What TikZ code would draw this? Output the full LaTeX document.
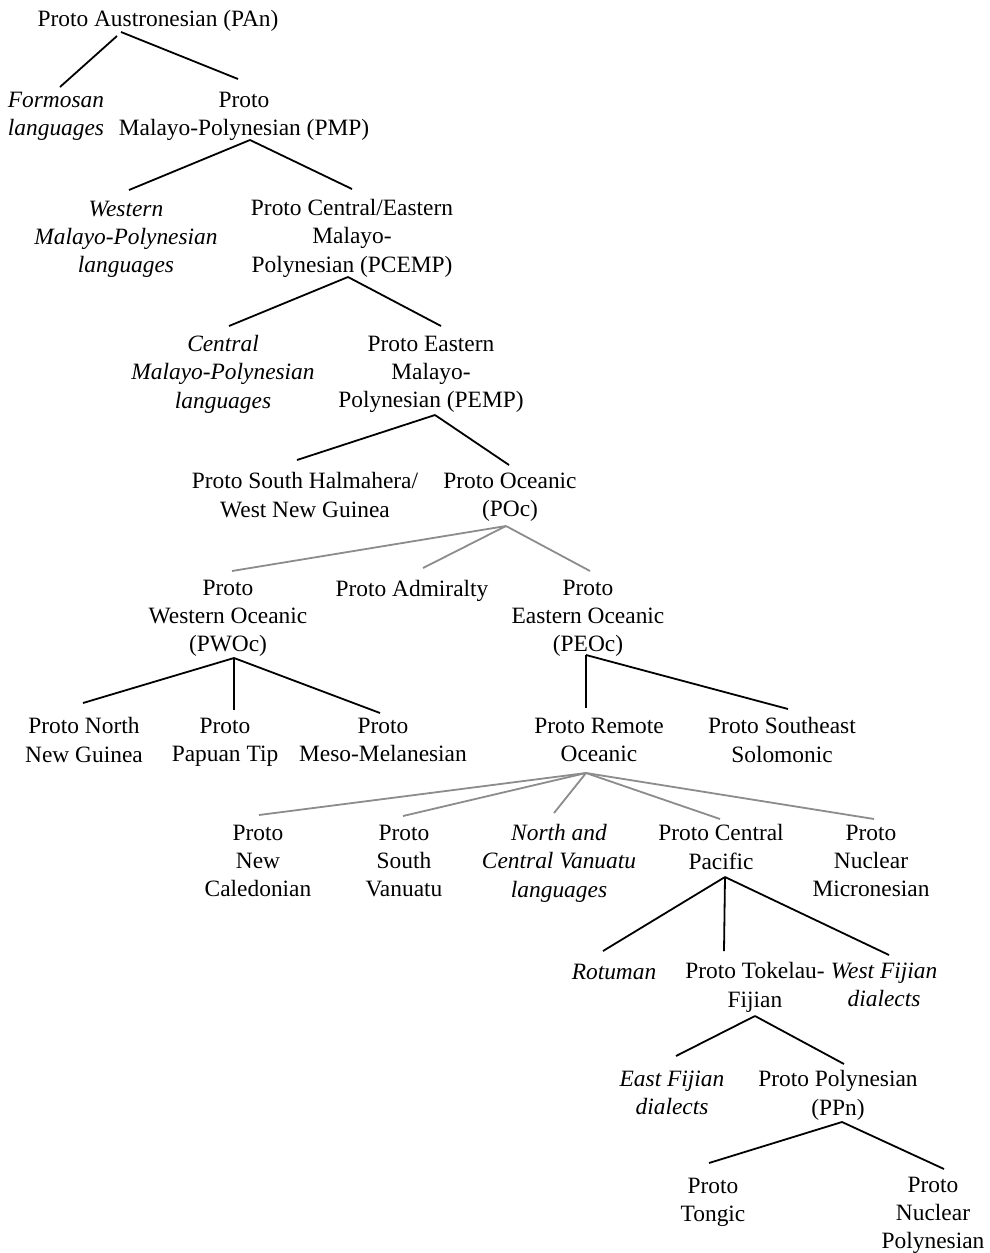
\documentclass[tikz,border=0pt]{standalone}
\usepackage{fontspec}
\setmainfont{Liberation Serif}
\begin{document}
\begin{tikzpicture}[x=1pt,y=-1pt,
  lbl/.style={align=center, inner sep=0pt, font=\fontsize{23.4}{28.4}\selectfont,
    execute at begin node={\rule{0pt}{25.9pt}}, execute at end node=\strut},
  ital/.style={lbl, font=\fontsize{23.4}{28.4}\selectfont\itshape},
  edge/.style={line width=1.8pt, black},
  gedge/.style={line width=1.8pt, color=black!45}]
\useasboundingbox (0,0) rectangle (990,1253);
\fill[white] (0,0) rectangle (990,1253);
% nodes
\node[lbl]  (pan)   at (158,18)   {Proto Austronesian (PAn)};
\node[ital] (form)  at (56,118)   {Formosan\\languages};
\node[lbl]  (pmp)   at (244,118)  {Proto\\Malayo-Polynesian (PMP)};
\node[ital] (wmp)   at (126,241)  {Western\\Malayo-Polynesian\\languages};
\node[lbl]  (pcemp) at (352,240)  {Proto Central/Eastern\\Malayo-\\Polynesian (PCEMP)};
\node[ital] (cmp)   at (223,376)  {Central\\Malayo-Polynesian\\languages};
\node[lbl]  (pemp)  at (431,376)  {Proto Eastern\\Malayo-\\Polynesian (PEMP)};
\node[lbl]  (psh)   at (305,499)  {Proto South Halmahera/\\West New Guinea};
\node[lbl]  (poc)   at (510,499)  {Proto Oceanic\\(POc)};
\node[lbl]  (pwoc)  at (228,620)  {Proto\\Western Oceanic\\(PWOc)};
\node[lbl]  (padm)  at (412,588)  {Proto Admiralty};
\node[lbl]  (peoc)  at (588,620)  {Proto\\Eastern Oceanic\\(PEOc)};
\node[lbl]  (pnng)  at (84,744)   {Proto North\\New Guinea};
\node[lbl]  (ppt)   at (225,744)  {Proto\\Papuan Tip};
\node[lbl]  (pmm)   at (383,744)  {Proto\\Meso-Melanesian};
\node[lbl]  (pro)   at (599,744)  {Proto Remote\\Oceanic};
\node[lbl]  (pses)  at (782,744)  {Proto Southeast\\Solomonic};
\node[lbl]  (pnc)   at (258,865)  {Proto\\New\\Caledonian};
\node[lbl]  (psv)   at (404,865)  {Proto\\South\\Vanuatu};
\node[ital] (ncv)   at (559,865)  {North and\\Central Vanuatu\\languages};
\node[lbl]  (pcp)   at (721,851)  {Proto Central\\Pacific};
\node[lbl]  (pnm)   at (871,865)  {Proto\\Nuclear\\Micronesian};
\node[ital] (rot)   at (614,971)  {Rotuman};
\node[lbl]  (ptf)   at (755,989)  {Proto Tokelau-\\Fijian};
\node[ital] (wfd)   at (884,989)  {West Fijian\\dialects};
\node[ital] (efd)   at (672,1097) {East Fijian\\dialects};
\node[lbl]  (ppn)   at (838,1097) {Proto Polynesian\\(PPn)};
\node[lbl]  (pton)  at (713,1204) {Proto\\Tongic};
\node[lbl]  (pnp)   at (933,1217) {Proto\\Nuclear\\Polynesian};
% connectors
\draw[edge] ([shift={(-41,18)}]pan.center) -- ([shift={(4,-31)}]form.center);
\draw[edge] ([shift={(-37,14)}]pan.center) -- ([shift={(-6,-39)}]pmp.center);
\draw[edge] ([shift={(6,22)}]pmp.center) -- ([shift={(3,-51)}]wmp.center);
\draw[edge] ([shift={(6,22)}]pmp.center) -- ([shift={(0,-51)}]pcemp.center);
\draw[edge] ([shift={(-4,37)}]pcemp.center) -- ([shift={(6,-50)}]cmp.center);
\draw[edge] ([shift={(-4,37)}]pcemp.center) -- ([shift={(10,-50)}]pemp.center);
\draw[edge] ([shift={(4,39)}]pemp.center) -- ([shift={(-8,-39)}]psh.center);
\draw[edge] ([shift={(4,39)}]pemp.center) -- ([shift={(-1,-34)}]poc.center);
\draw[gedge] ([shift={(-4,27)}]poc.center) -- ([shift={(4,-49)}]pwoc.center);
\draw[gedge] ([shift={(-4,27)}]poc.center) -- ([shift={(11,-20)}]padm.center);
\draw[gedge] ([shift={(-4,27)}]poc.center) -- ([shift={(2,-49)}]peoc.center);
\draw[edge] ([shift={(6,38)}]pwoc.center) -- ([shift={(-1,-41)}]pnng.center);
\draw[edge] ([shift={(6,38)}]pwoc.center) -- ([shift={(9,-34)}]ppt.center);
\draw[edge] ([shift={(6,38)}]pwoc.center) -- ([shift={(-3,-31)}]pmm.center);
\draw[edge] ([shift={(-2,35)}]peoc.center) -- ([shift={(-13,-36)}]pro.center);
\draw[edge] ([shift={(-2,35)}]peoc.center) -- ([shift={(6,-35)}]pses.center);
\draw[gedge] ([shift={(-13,29)}]pro.center) -- ([shift={(1,-50)}]pnc.center);
\draw[gedge] ([shift={(-13,29)}]pro.center) -- ([shift={(-1,-49)}]psv.center);
\draw[gedge] ([shift={(-13,29)}]pro.center) -- ([shift={(-5,-52)}]ncv.center);
\draw[gedge] ([shift={(-13,29)}]pro.center) -- ([shift={(-1,-32)}]pcp.center);
\draw[gedge] ([shift={(-13,29)}]pro.center) -- ([shift={(3,-46)}]pnm.center);
\draw[edge] ([shift={(4,26)}]pcp.center) -- ([shift={(-11,-20)}]rot.center);
\draw[edge] ([shift={(4,26)}]pcp.center) -- ([shift={(-31,-38)}]ptf.center);
\draw[edge] ([shift={(4,26)}]pcp.center) -- ([shift={(5,-34)}]wfd.center);
\draw[edge] ([shift={(0,27)}]ptf.center) -- ([shift={(4,-41)}]efd.center);
\draw[edge] ([shift={(0,27)}]ptf.center) -- ([shift={(6,-33)}]ppn.center);
\draw[edge] ([shift={(4,25)}]ppn.center) -- ([shift={(-4,-41)}]pton.center);
\draw[edge] ([shift={(4,25)}]ppn.center) -- ([shift={(11,-48)}]pnp.center);
\end{tikzpicture}
\end{document}
